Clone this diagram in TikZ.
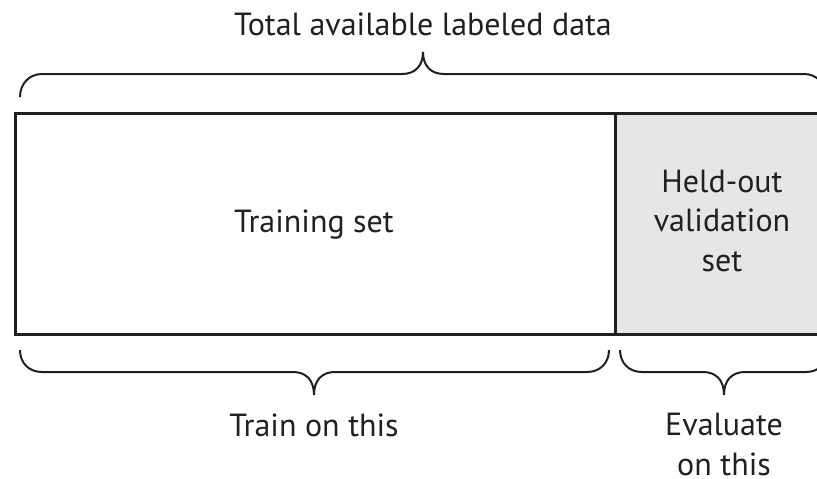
\documentclass[tikz,border=0pt]{standalone}
\usepackage{fontspec}
\setmainfont{PT Sans}
\definecolor{ink}{HTML}{231F20}
\definecolor{valgray}{HTML}{E6E6E6}
\tikzset{
  box/.style={draw=ink, line width=3pt, anchor=north west, inner sep=0pt},
  brace/.style={draw=ink, line width=2pt},
  lbl/.style={text=ink, align=center, inner sep=0pt, font=\fontsize{32}{39.5}\selectfont},
}
\begin{document}
\begin{tikzpicture}[x=1pt,y=-1pt]
\useasboundingbox (0,0) rectangle (817,479);
\node[box, fill=valgray, minimum width=216pt, minimum height=221pt] (val) at (614,112) {};
\node[box, fill=white, minimum width=600pt, minimum height=221pt] (train) at (14,112) {};
\node[lbl, anchor=base] (trainlbl) at (314,232) {Training set};
\node[lbl, anchor=base] (vallbl) at (722,271) {Held-out\\validation\\set};
% top brace
\draw[brace] (20,97) .. controls (20,84) and (29,74) .. (42,74) -- (402,74)
  .. controls (415,74) and (423,66) .. (423,52)
  .. controls (423,66) and (431,74) .. (444,74) -- (804,74)
  .. controls (817,74) and (826,84) .. (826,97);
% bottom left brace
\draw[brace] (20,350) .. controls (20,363) and (29,372) .. (42,372) -- (293,372)
  .. controls (306,372) and (314,380) .. (314,395)
  .. controls (314,380) and (322,372) .. (335,372) -- (587,372)
  .. controls (600,372) and (609,363) .. (609,350);
% bottom right brace
\draw[brace] (620,350) .. controls (620,363) and (629,372) .. (642,372) -- (703,372)
  .. controls (716,372) and (724,380) .. (724,395)
  .. controls (724,380) and (732,372) .. (745,372) -- (806,372)
  .. controls (819,372) and (828,363) .. (828,350);
\node[lbl, anchor=base] (total) at (423,35) {Total available labeled data};
\node[lbl, anchor=base] (trainon) at (314,436) {Train on this};
\node[lbl, anchor=base] (evalon) at (724,475) {Evaluate\\on this};
\end{tikzpicture}
\end{document}
